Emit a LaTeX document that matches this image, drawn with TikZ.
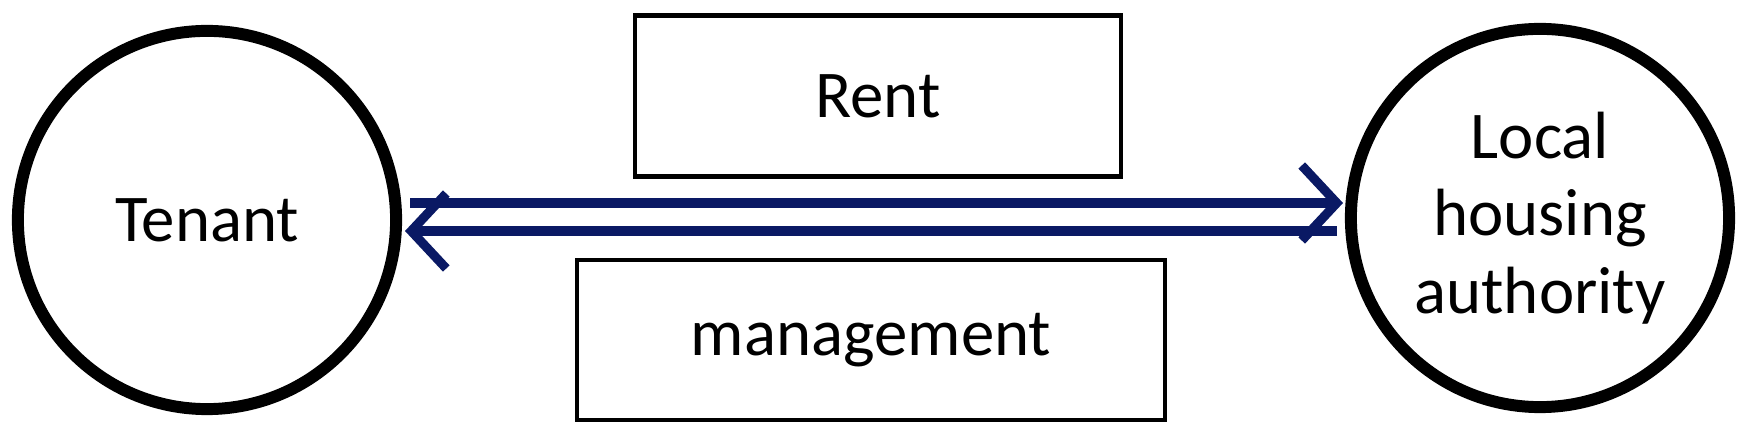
\documentclass[tikz,border=0pt]{standalone}
\usepackage{fontspec}
\setmainfont{Carlito}
\usetikzlibrary{arrows.meta}
\definecolor{navy}{RGB}{10,25,100}
\begin{document}
\begin{tikzpicture}[x=0.01cm,y=-0.01cm,
  ent/.style={circle,draw,line width=3.4pt,minimum size=3.78cm,align=center,font=\fontsize{19}{22}\selectfont,inner sep=0pt},
  lbl/.style={draw,line width=1.2pt,font=\fontsize{19}{22}\selectfont},
  flow/.style={navy,line width=2.6pt,-{Straight Barb[length=0.35cm,width=0.75cm,line width=2.6pt]}}]
\useasboundingbox (0,0) rectangle (1745,437);
\node[ent] (t) at (207,220) {Tenant};
\node[ent] (h) at (1540,218) {Local\\housing\\authority};
\node[lbl,minimum width=4.85cm,minimum height=1.61cm] (r) at (878,96) {Rent};
\node[lbl,minimum width=5.88cm,minimum height=1.6cm] (m) at (871,340) {management};
\coordinate (a1) at (410,203);
\coordinate (a2) at (1343,203);
\coordinate (b1) at (1337,231);
\coordinate (b2) at (405,231);
\draw[flow] (a1) -- (a2);
\draw[flow] (b1) -- (b2);
\end{tikzpicture}
\end{document}
